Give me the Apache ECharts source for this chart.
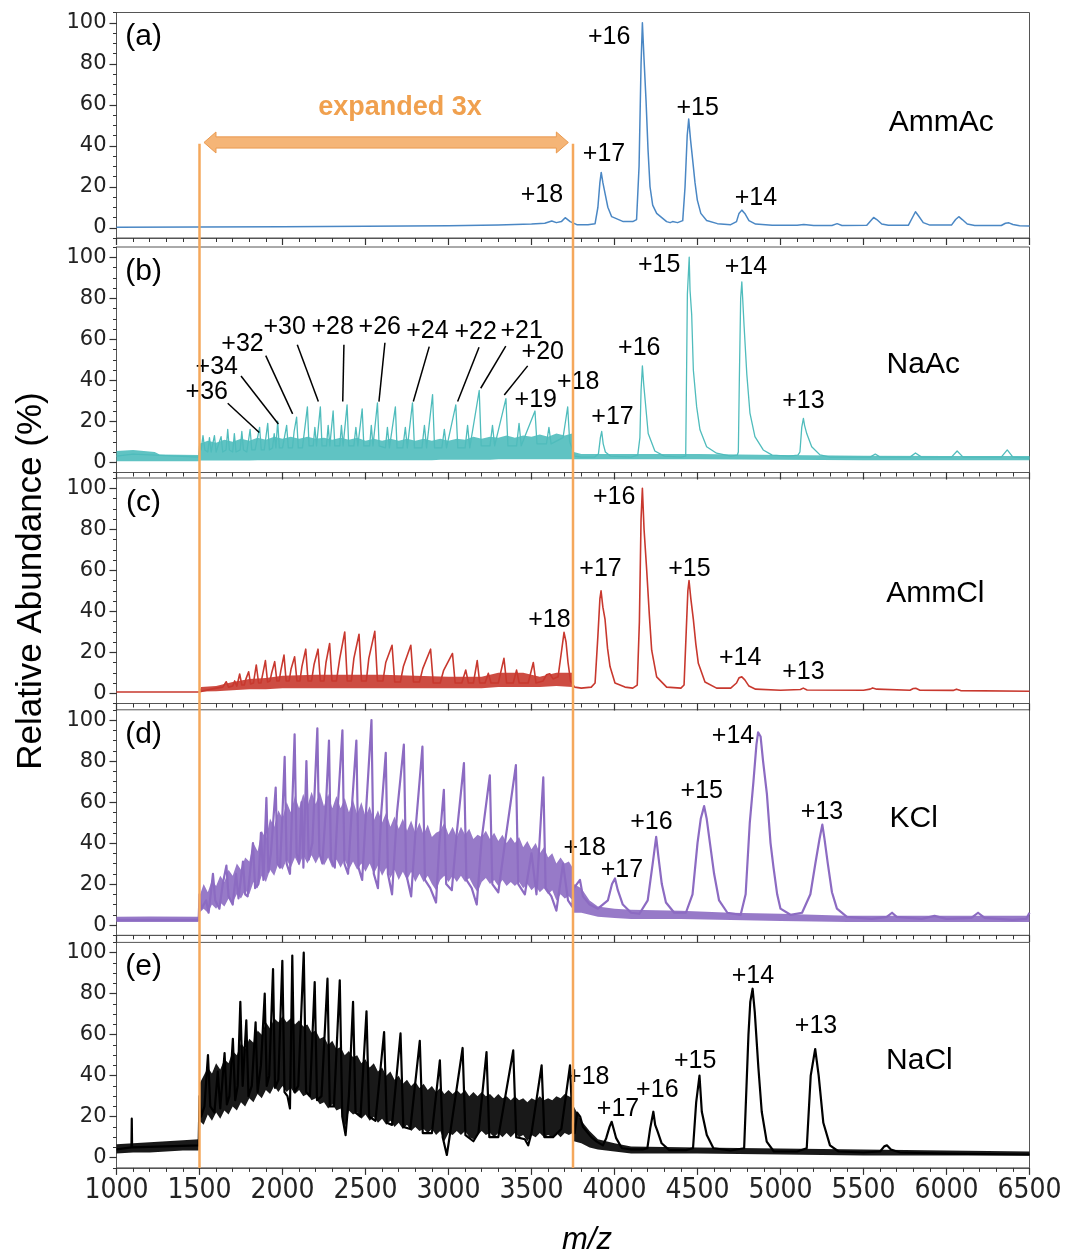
<!DOCTYPE html>
<html><head><meta charset="utf-8">
<script src="https://cdn.jsdelivr.net/npm/echarts@6/dist/echarts.min.js"></script>
<style>html,body{margin:0;padding:0;background:#fff}#c{width:1065px;height:1259px}</style>
</head><body><div id="c"></div>
<script>
// ---------- data (m/z, relative abundance %) ----------
const yTickValues = [0,20,40,60,80,100];

const specA = [[1000,0.3],[1500,0.4],[2000,0.5],[2500,0.7],[3000,1],[3300,1.3],[3500,1.8],[3580,2.2],[3622,3.3],[3650,2.5],[3680,3],[3703,4.9],[3733,3],[3773,1.5],[3840,1.5],[3883,2],[3900,10],[3912,22],[3920,27],[3930,22],[3943,16.8],[3960,10],[3983,5.4],[4053,3],[4110,3],[4133,4],[4148,30],[4160,80],[4168,100],[4178,82],[4190,62],[4202,38],[4214,20],[4230,11],[4254,7],[4314,3],[4335,2.5],[4350,3],[4380,2.5],[4411,3.5],[4425,20],[4438,45],[4447,53],[4458,43],[4471,33],[4485,22],[4499,13.5],[4520,7],[4555,3.5],[4620,2],[4700,1.5],[4735,3],[4750,7],[4767,8.6],[4785,7],[4810,3.5],[4850,1.8],[4950,1.2],[5100,1.2],[5140,1.6],[5200,1.1],[5310,1.1],[5341,2],[5370,1.1],[5520,1.2],[5545,3.5],[5561,5],[5580,4],[5610,1.8],[5650,1.2],[5770,1.2],[5795,5],[5813,7.8],[5830,6],[5860,2.5],[5900,1.3],[6030,1.3],[6055,4],[6074,5.4],[6095,4],[6125,1.8],[6170,1.1],[6330,1.1],[6355,2.2],[6376,2.4],[6400,1.6],[6440,1],[6500,0.9]];

const specB = [[1000,3],[1100,4],[1495,2.5],[1500,8],[1510,6],[1521,13],[1532,6],[1550,5],[1560,12],[1570,5],[1590,13],[1600,5],[1630,12.5],[1640,5],[1660,6],[1670,16],[1680,6],[1700,5],[1710,14],[1720,5],[1745,6],[1755,15],[1765,6],[1785,5],[1805,16],[1815,6],[1835,6],[1862,17],[1872,6],[1890,6],[1911,19],[1921,6],[1940,7],[1950,14],[1960,7],[1971,20],[1981,7],[2000,7],[2025,18],[2035,7],[2060,7],[2070,15],[2085,22],[2095,7],[2120,7],[2150,27],[2160,8],[2185,8],[2195,17],[2205,8],[2228,27],[2238,8],[2265,8],[2275,18],[2285,8],[2305,25],[2315,8],[2345,8],[2355,18],[2365,8],[2389,28],[2399,8],[2430,8],[2442,17],[2454,8],[2480,26],[2490,8],[2525,8],[2535,18],[2545,8],[2572,29],[2582,8],[2620,7],[2632,17],[2644,7],[2680,27],[2690,7],[2725,7],[2740,17],[2752,7],[2783,29],[2795,7],[2840,7],[2855,18],[2868,7],[2904,33],[2916,7],[2960,7],[2975,16],[2988,7],[3044,28],[3056,7],[3100,7],[3115,18],[3128,7],[3185,35],[3197,8],[3250,8],[3265,18],[3278,8],[3346,31],[3358,8],[3410,8],[3425,19],[3438,8],[3521,25],[3533,9],[3590,9],[3605,17],[3618,9],[3690,12],[3705,20],[3718,27],[3730,10],[3748,6],[3760,3],[3800,2.5],[3880,2.5],[3903,4],[3915,12],[3923,15],[3932,9],[3945,5],[3975,3],[4100,2.5],[4140,3.5],[4153,12],[4160,35],[4168,47],[4176,38],[4185,30],[4203,14],[4243,5.5],[4300,3],[4400,2.5],[4429,3],[4439,82],[4450,100],[4455,84],[4465,72],[4475,45],[4495,27],[4515,15.8],[4555,7.6],[4615,4.4],[4700,3],[4740,3.5],[4746,5],[4752,40],[4760,80],[4767,88],[4781,66],[4797,43],[4816,24],[4846,12.5],[4896,6],[4950,3.5],[5050,3],[5105,3.5],[5117,5],[5128,17],[5138,21.4],[5145,18],[5158,14],[5188,7.6],[5238,3.6],[5300,2.5],[5400,2.5],[5540,2.5],[5571,4],[5600,2.5],[5780,2.5],[5813,4.5],[5850,2.5],[6030,2.5],[6064,5.5],[6100,2.5],[6330,2.5],[6366,6],[6400,2.5],[6500,2]];
const bandB = [[1000,0.5,5.5],[1100,0.5,6],[1230,0.5,5],[1260,0.5,3.8],[1495,0.5,3.5],[1500,0.8,9],[1550,0.8,10.5],[1600,0.8,9.5],[1650,0.8,11],[1700,0.8,10],[1750,0.8,11.5],[1800,0.8,10.5],[1850,1,12],[1900,1,11],[1950,1,12.5],[2000,1,11.5],[2050,1,12.5],[2100,1,11.5],[2150,1,12.5],[2200,1,11.5],[2250,1,12],[2300,1,11],[2350,1,12],[2400,1,11],[2450,1,12],[2500,1,10.5],[2550,1,11.5],[2600,1,10.5],[2650,1,11.5],[2700,1,10.5],[2750,1,11.5],[2800,1,10.5],[2850,1,11.5],[2900,1,10.5],[2950,1.2,11.5],[3000,1.2,10.5],[3050,1.2,11.5],[3100,1.2,11],[3150,1.2,12.5],[3200,1.2,11.5],[3250,1.2,12.5],[3300,1.5,12],[3350,1.5,13],[3400,1.5,12],[3450,1.5,13],[3500,1.5,12.5],[3550,1.5,13.5],[3600,1.5,12.5],[3650,1.5,14],[3700,1.5,13],[3745,1.5,14],[3755,1.5,5],[3800,1.5,4],[4000,1.5,4],[4500,1.5,4],[5000,1.2,3.5],[5500,1,3.2],[6000,1,3],[6500,1,3]];

const specC = [[1000,0.6],[1495,0.6],[1500,1.5],[1600,2.5],[1640,3],[1661,5.6],[1675,3],[1700,3.5],[1712,6],[1725,3.5],[1742,9.4],[1755,4],[1770,4],[1780,7],[1796,10.5],[1808,4.5],[1825,5],[1842,13.8],[1856,5],[1870,5],[1880,9],[1897,15.9],[1910,5.5],[1925,6],[1935,10],[1953,15.4],[1966,6],[1980,6],[1990,11],[2009,18.6],[2022,6],[2040,6],[2052,12],[2073,17.8],[2087,6],[2105,6],[2117,13],[2140,21.5],[2154,6],[2175,6],[2190,14],[2214,21.5],[2228,6],[2250,6],[2262,15],[2284,24.3],[2298,6],[2325,6],[2345,17],[2375,29.9],[2390,6],[2415,6],[2430,17],[2461,28.8],[2476,6],[2505,6],[2520,17],[2556,30.2],[2572,6],[2605,6],[2622,15],[2660,23.4],[2676,5.5],[2710,5.5],[2728,13],[2773,23.4],[2789,5.5],[2825,5.5],[2845,12],[2892,21.5],[2908,5],[2950,5],[2970,11],[3024,19.4],[3040,5],[3080,5],[3104,11.3],[3120,5],[3150,5],[3173,15.9],[3188,5],[3220,5],[3240,9.7],[3256,5],[3300,5],[3334,17],[3350,5],[3390,5],[3410,11.3],[3426,5],[3480,5],[3511,15],[3527,5],[3570,6],[3590,9],[3610,9.5],[3630,7],[3660,8],[3680,20],[3696,29.7],[3708,25],[3720,15],[3735,6],[3760,3],[3800,2.5],[3860,3],[3883,5],[3900,28],[3912,46],[3919,50],[3930,42],[3943,36],[3958,22],[3973,13],[4003,5],[4063,3],[4110,2.5],[4137,4],[4150,35],[4160,85],[4168,100],[4178,80],[4194,60],[4210,38],[4224,21],[4254,8],[4314,3],[4400,2.5],[4419,4],[4432,30],[4442,50],[4449,55],[4460,46],[4475,36],[4490,24],[4505,14.6],[4545,5.5],[4615,2.5],[4700,2.5],[4735,5],[4750,7.5],[4767,8],[4785,6.5],[4810,3.5],[4850,2],[5000,1.5],[5120,1.8],[5137,2.5],[5160,1.6],[5500,1.5],[5540,2],[5555,2.6],[5580,2],[5780,1.5],[5800,2.3],[5815,2.4],[5840,1.5],[6040,1.4],[6060,2],[6085,1.3],[6500,1]];
const bandC = [[1500,0.5,1.5],[1510,0.8,3],[1600,1,3.5],[1700,1.5,5.5],[1800,2,7],[1900,2,7.5],[2000,2.5,8.5],[2200,2.5,9],[2400,2.5,9],[2600,2.5,9],[2800,2.5,8.5],[3000,2.5,8],[3200,2.5,8],[3300,3,10],[3450,3,10],[3550,3,8],[3650,3.5,10],[3745,3,10],[3755,2,4]];

const specD = [[1000,2.5],[1495,2.5],[1500,15],[1510,8],[1540,12],[1555,6],[1581,25],[1595,12],[1620,8],[1640,20],[1662,29],[1675,14],[1700,10],[1720,25],[1735,13],[1762,31],[1775,15],[1790,14],[1822,40],[1835,18],[1855,20],[1870,45],[1885,22],[1903,62],[1915,26],[1930,35],[1959,67],[1970,30],[1985,28],[2000,55],[2013,82],[2025,30],[2045,25],[2073,93],[2085,35],[2100,30],[2115,60],[2126,28],[2144,80],[2158,32],[2180,40],[2192,62],[2210,96],[2222,35],[2240,30],[2260,55],[2280,90],[2292,32],[2315,28],[2335,60],[2361,95],[2373,30],[2395,25],[2420,60],[2445,90],[2458,28],[2480,22],[2505,58],[2536,100],[2550,25],[2575,18],[2595,55],[2622,84],[2635,25],[2660,15],[2690,55],[2731,88],[2745,25],[2775,14],[2805,50],[2843,87],[2858,22],[2890,18],[2925,11],[2945,40],[2972,66],[2986,20],[3020,17],[3050,45],[3093,79],[3108,22],[3140,18],[3170,10],[3200,42],[3249,73],[3264,20],[3300,16],[3340,40],[3406,78],[3420,20],[3460,15],[3500,35],[3530,15],[3571,72],[3585,18],[3620,14],[3650,7],[3690,30],[3720,12],[3745,9],[3755,18],[3792,22],[3810,14],[3850,10],[3900,8],[3960,12],[3985,20],[4003,22.7],[4020,17],[4050,10],[4100,6],[4150,5.5],[4200,12],[4230,30],[4251,43],[4265,33],[4285,20],[4310,11],[4360,6],[4430,6],[4470,15],[4500,40],[4520,52],[4540,58],[4555,52],[4575,40],[4600,25],[4630,12],[4680,6],[4760,5],[4790,15],[4815,50],[4837,70],[4855,88],[4865,94],[4880,92],[4895,80],[4918,64],[4940,40],[4958,28],[4980,15],[5000,8],[5060,5],[5130,6],[5180,15],[5210,30],[5235,42],[5252,49],[5265,42],[5285,30],[5310,16],[5340,8],[5400,4],[5550,3],[5640,4],[5672,6],[5700,4],[5850,3],[5928,4.5],[6000,3],[6150,3.5],[6190,6],[6230,3.5],[6400,2.5],[6480,3],[6500,6]];
const bandD = [[1000,1.5,4],[1200,1.5,4.2],[1495,1.5,4],[1500,6,14],[1525,8,20],[1550,6,16],[1575,10,22],[1600,8,19],[1625,11,24],[1650,9,21],[1675,13,27],[1700,11,24],[1725,15,30],[1750,13,27],[1775,17,33],[1800,15,31],[1825,21,40],[1850,18,36],[1875,24,46],[1900,21,42],[1925,27,52],[1950,24,48],[1975,30,56],[2000,27,52],[2025,32,60],[2050,28,55],[2075,33,63],[2100,29,57],[2125,34,64],[2150,30,58],[2175,34,65],[2200,30,59],[2225,34,65],[2250,29,58],[2275,33,64],[2300,28,57],[2325,32,63],[2350,28,57],[2375,32,62],[2400,27,55],[2425,31,61],[2450,27,54],[2475,30,60],[2500,26,53],[2525,30,58],[2550,25,51],[2575,29,56],[2600,24,50],[2625,28,55],[2650,23,48],[2675,27,53],[2700,22,47],[2725,26,52],[2750,22,46],[2775,26,51],[2800,21,45],[2825,25,50],[2850,21,44],[2875,24,49],[2900,20,43],[2925,17,45],[2950,22,46],[2975,24,50],[3000,21,44],[3025,24,48],[3050,21,43],[3075,24,48],[3100,21,44],[3125,23,47],[3150,19,42],[3175,16,44],[3200,21,43],[3225,23,46],[3250,20,42],[3275,22,45],[3300,19,41],[3325,22,44],[3350,19,40],[3375,21,43],[3400,19,40],[3425,21,43],[3450,18,38],[3475,20,41],[3500,17,37],[3525,19,40],[3550,16,35],[3575,18,38],[3600,15,33],[3625,17,35],[3650,12,30],[3675,15,33],[3700,13,30],[3725,14,31],[3748,12,28],[3755,6,20],[3800,6,18],[3850,5,12],[3900,4,9],[4000,3.5,8],[4100,3,7.5],[4400,3,7],[4700,2.5,6],[5000,2,5.5],[5400,1.5,4.5],[6500,1.5,4.5]];

const specE = [[1000,4],[1090,5],[1092,19],[1094,5],[1495,6],[1500,30],[1510,20],[1530,25],[1551,50],[1565,25],[1590,22],[1610,42],[1625,24],[1651,51],[1665,26],[1680,30],[1701,58],[1715,28],[1730,35],[1746,76],[1760,35],[1782,67],[1795,30],[1815,35],[1838,66],[1850,32],[1870,45],[1893,80],[1905,35],[1920,40],[1943,92],[1955,34],[1975,38],[1999,96],[2012,32],[2030,30],[2045,24],[2059,98.6],[2072,32],[2095,35],[2128,100],[2142,32],[2165,30],[2194,85.6],[2208,28],[2235,30],[2271,87.3],[2285,25],[2310,25],[2345,86.5],[2360,20],[2380,11],[2400,30],[2425,76],[2440,22],[2470,20],[2506,71.4],[2522,20],[2560,18],[2612,61.3],[2628,17],[2660,16],[2711,60.6],[2728,15],[2770,14],[2827,57],[2845,12],[2900,12],[2948,47.5],[2965,10],[2990,1.3],[3010,12],[3085,53.5],[3102,11],[3150,8],[3180,12],[3229,51.5],[3246,10],[3300,10],[3390,52.3],[3408,10],[3460,9],[3480,6],[3500,12],[3561,45],[3578,10],[3630,10],[3680,14],[3732,45],[3745,20],[3760,12],[3775,22],[3793,20],[3810,15],[3833,12.7],[3860,10],[3893,7.8],[3930,6],[3950,9.5],[3970,15],[3983,17.5],[3995,14],[4010,9.5],[4045,4.6],[4100,4],[4170,4],[4198,4.6],[4215,14.3],[4234,22.4],[4245,16],[4260,12.7],[4284,7],[4330,3.7],[4430,3.7],[4473,4.6],[4492,27],[4512,40],[4526,22.4],[4556,11],[4596,4.6],[4700,3.5],[4781,4.6],[4807,60],[4818,76],[4832,82.4],[4845,71],[4867,43.6],[4887,22.4],[4917,7.8],[4960,3],[5100,3],[5158,4.6],[5182,40],[5209,53],[5230,40],[5258,17],[5298,6],[5350,3],[5500,2.5],[5600,3],[5625,5.5],[5641,6],[5665,4],[5720,2.5],[6000,2],[6500,1.5]];
const bandE = [[1000,2,6.5],[1100,2.5,7],[1200,2.5,7.5],[1300,3,8],[1400,3.5,8.5],[1495,3.5,9],[1500,18,36],[1525,16,40],[1550,21,44],[1575,18,41],[1600,22,46],[1625,19,43],[1650,23,48],[1675,21,46],[1700,25,52],[1725,23,50],[1750,27,56],[1775,25,53],[1800,29,58],[1825,27,56],[1850,31,62],[1875,29,60],[1900,33,66],[1925,31,63],[1950,35,68],[1975,32,66],[2000,35,69],[2025,32,66],[2050,34,68],[2075,31,65],[2100,33,67],[2125,30,64],[2150,31,65],[2175,28,61],[2200,29,62],[2225,26,58],[2250,27,59],[2275,24,55],[2300,26,57],[2325,23,53],[2350,24,54],[2375,14,50],[2400,23,52],[2425,21,49],[2450,22,50],[2475,19,46],[2500,21,48],[2525,18,44],[2550,20,46],[2575,17,42],[2600,19,44],[2625,16,40],[2650,18,42],[2675,15,38],[2700,17,40],[2725,14,36],[2750,16,38],[2775,13,35],[2800,15,37],[2825,13,34],[2850,14,36],[2875,12,33],[2900,14,35],[2925,11,32],[2950,13,34],[2975,8,31],[3000,12,33],[3025,11,31],[3050,13,33],[3075,11,31],[3100,13,33],[3125,10,30],[3150,9,32],[3175,11,30],[3200,13,32],[3225,11,30],[3250,12,31],[3275,10,29],[3300,12,31],[3325,10,29],[3350,12,30],[3375,10,28],[3400,12,30],[3425,10,28],[3450,11,29],[3475,8,27],[3500,11,29],[3525,10,28],[3550,12,30],[3575,10,28],[3600,11,29],[3625,10,28],[3650,12,30],[3675,10,29],[3700,12,31],[3725,11,30],[3748,12,29],[3755,8,25],[3800,7,18],[3850,5,13],[3900,4,9],[4000,3,7],[4100,2,5.5],[4500,2,5],[5000,1.5,4.5],[5500,1,4],[6000,1,3.5],[6500,1,3]];

// annotations: [text, m/z, %]
const annA = [['+16',3968,93.2],['+15',4501,58.6],['+17',3937,35.7],['+18',3563,15.8],['+14',4852,14.3]];
const annB = [['+15',4269,96.2],['+14',4792,95.2],['+16',4149,55.8],['+18',3782,38.9],['+17',3988,22],['+13',5138,29.8],['+19',3526,30.1],['+20',3568,53.6],['+21',3441,64.1],['+22',3164,63.3],['+24',2873,64.1],['+26',2586,65.8],['+28',2302,65.8],['+30',2013,65.8],['+32',1759,57.6],['+34',1604,46.4],['+36',1544,34.4]];
const annC = [['+16',3998,95.9],['+17',3916,60.5],['+15',4451,60.5],['+18',3608,35.5],['+14',4757,17.3],['+13',5138,10.5]];
const annD = [['+14',4714,92.1],['+15',4526,65.5],['+16',4222,50],['+13',5250,55.1],['+18',3820,37.6],['+17',4045,27]];
const annE = [['+14',4834,88.5],['+13',5214,64.1],['+15',4486,47.3],['+16',4258,33],['+18',3842,39.1],['+17',4021,23.7]];
// leader lines in panel (b): [m/z1, %1, m/z2, %2]
const leadersB = [[1670,28.8,1860,14.5],[1750,42.1,1975,18.7],[1899,52,2061,23.6],[2089,57.3,2216,29.6],[2370,57.3,2363,29.6],[2617,58.3,2581,29.6],[2884,56.4,2788,29.6],[3184,56.1,3055,29.6],[3345,56.7,3194,36.1],[3477,47,3336,32.8]];
const sampleNames = [['AmmAc',5968,51],['NaAc',5860,47.5],['AmmCl',5933,48.7],['KCl',5802,51.7],['NaCl',5837,47.2]];
const panelLetters = [['(a)',1163,93],['(b)',1163,93],['(c)',1163,93],['(d)',1163,93],['(e)',1163,93]];
const expandRange = [1500, 3750];   // m/z of the orange guide lines
const arrowRange = [1527, 3722];    // arrow tips (m/z)
const arrowLevel = 41.6;            // % in panel (a)
const guideTop = 41;                // % in panel (a)
const expandText = ['expanded 3x', 2708, 58.6];

// ---------- layout/styles ----------
const specs = [specA, specB, specC, specD, specE];
const bands = [null, bandB, bandC, bandD, bandE];
const anns = [annA, annB, annC, annD, annE];
const colors = ['#4a87c4', '#4fbcbc', '#c8382e', '#8c6bc2', '#000000'];
const widths = [1.5, 1.3, 1.6, 2.2, 2.2];
const tops = [12.5, 247, 478, 709.8, 942.4];
const GL = 116.5, GW = 913, GH = 225.5;
const SANS = "'Liberation Sans', Arial, sans-serif";

const grid = [], xAxis = [], yAxis = [], series = [];
const lineIdx = [];
const labelCommon = {show: true, position: 'inside', formatter: '{b}', color: '#000', fontFamily: SANS, opacity: 1};
for (let i = 0; i < 5; i++) {
  grid.push({left: GL, top: tops[i], width: GW, height: GH, show: true, borderColor: '#555', borderWidth: 1,
    backgroundColor: 'transparent', outerBoundsMode: 'none', containLabel: false});
  xAxis.push({
    gridIndex: i, type: 'value', min: 1000, max: 6500, interval: 500,
    axisLine: {show: true, onZero: false, lineStyle: {color: '#555', width: 1}},
    axisTick: {show: true, inside: false, length: 7, lineStyle: {color: '#333', width: 1.2}},
    minorTick: {show: true, splitNumber: 5, length: 4, lineStyle: {color: '#333', width: 1}},
    splitLine: {show: false}, minorSplitLine: {show: false},
    axisLabel: {show: i === 4, margin: 9, fontSize: 28, color: '#222', formatter: v => String(v),
      hideOverlap: false, showMinLabel: true, showMaxLabel: true,
      fontFamily: "'DejaVu Sans Condensed', 'Liberation Sans Narrow', 'DejaVu Sans', sans-serif"}
  });
  yAxis.push({
    gridIndex: i, type: 'value', min: -5, max: 105,
    axisLine: {show: true, onZero: false, lineStyle: {color: '#555', width: 1}},
    axisTick: {show: true, length: 7, customValues: yTickValues, lineStyle: {color: '#333', width: 1.2}},
    axisLabel: {show: true, customValues: yTickValues, margin: 10, fontSize: 21, color: '#222', fontFamily: "'DejaVu Sans', sans-serif"},
    splitLine: {show: false}
  });
  yAxis.push({
    gridIndex: i, type: 'value', min: -5, max: 105, interval: 5, position: 'left',
    axisLine: {show: false}, axisLabel: {show: false}, splitLine: {show: false},
    axisTick: {show: true, length: 3.5, lineStyle: {color: '#333', width: 1}}
  });
  const band = bands[i];
  if (band) {
    const col = colors[i];
    series.push({
      type: 'custom', xAxisIndex: i, yAxisIndex: 2 * i, silent: true, animation: false, clip: true, z: 1,
      data: band, encode: {x: 0, y: [1, 2]},
      renderItem: function (params, api) {
        if (params.dataIndex !== 0) return null;
        const pts = [];
        for (let k = 0; k < band.length; k++) pts.push(api.coord([band[k][0], band[k][2]]));
        for (let k = band.length - 1; k >= 0; k--) pts.push(api.coord([band[k][0], band[k][1]]));
        return {type: 'polygon', shape: {points: pts}, style: {fill: col, opacity: 0.9}};
      }
    });
  }
  lineIdx.push(series.length);
  series.push({
    type: 'line', xAxisIndex: i, yAxisIndex: 2 * i, data: specs[i], symbol: 'none', showSymbol: false,
    lineStyle: {color: colors[i], width: widths[i], join: 'round'}, animation: false, silent: true, z: 2, clip: true
  });
  const annSeries = {
    type: 'scatter', xAxisIndex: i, yAxisIndex: 2 * i, symbolSize: 2, itemStyle: {color: 'rgba(0,0,0,0)'}, silent: true, animation: false, z: 5,
    data: anns[i].map(a => ({name: a[0], value: [a[1], a[2]]})),
    label: Object.assign({}, labelCommon, {fontSize: 25})
  };
  if (i === 1) {
    annSeries.markLine = {
      silent: true, animation: false, symbol: ['none', 'none'], label: {show: false},
      lineStyle: {color: '#000', width: 1.5, type: 'solid'},
      data: leadersB.map(l => [{coord: [l[0], l[1]]}, {coord: [l[2], l[3]]}])
    };
  }
  series.push(annSeries);
  series.push({
    type: 'scatter', xAxisIndex: i, yAxisIndex: 2 * i, symbolSize: 2, itemStyle: {color: 'rgba(0,0,0,0)'}, silent: true, animation: false, z: 5,
    data: [{name: sampleNames[i][0], value: [sampleNames[i][1], sampleNames[i][2]]}, {name: panelLetters[i][0], value: [panelLetters[i][1], panelLetters[i][2]]}],
    label: Object.assign({}, labelCommon, {fontSize: 30})
  });
}

const chart = echarts.init(document.getElementById('c'), null, {renderer: 'canvas'});
chart.setOption({animation: false, backgroundColor: '#fff', grid, xAxis, yAxis, series});

// orange guide lines / arrow, positioned through the axes
const P = (gi, v) => chart.convertToPixel({seriesIndex: lineIdx[gi]}, v);
const gL1 = P(0, [expandRange[0], guideTop]), gL2 = P(4, [expandRange[0], -5]);
const gR1 = P(0, [expandRange[1], guideTop]), gR2 = P(4, [expandRange[1], -5]);
const aL = P(0, [arrowRange[0], arrowLevel]), aR = P(0, [arrowRange[1], arrowLevel]);
const hl = 12, hh = 10.5, sh = 5.6, ay = aL[1];
const arrowPts = [
  [aL[0], ay], [aL[0] + hl, ay - hh], [aL[0] + hl, ay - sh], [aR[0] - hl, ay - sh], [aR[0] - hl, ay - hh],
  [aR[0], ay], [aR[0] - hl, ay + hh], [aR[0] - hl, ay + sh], [aL[0] + hl, ay + sh], [aL[0] + hl, ay + hh]
];
const tp = P(0, [expandText[1], expandText[2]]);
chart.setOption({graphic: [
  {type: 'line', z: 100, shape: {x1: gL1[0], y1: gL1[1], x2: gL2[0], y2: gL2[1]}, style: {stroke: '#f5a85c', lineWidth: 2.5}},
  {type: 'line', z: 100, shape: {x1: gR1[0], y1: gR1[1], x2: gR2[0], y2: gR2[1]}, style: {stroke: '#f5a85c', lineWidth: 2.5}},
  {type: 'polygon', z: 100, shape: {points: arrowPts}, style: {fill: '#f5b577', stroke: '#ea9a50', lineWidth: 1}},
  {type: 'text', z: 100, x: tp[0], y: tp[1], style: {text: expandText[0], fill: '#f0a04e', font: "bold 27px 'Liberation Sans', Arial, sans-serif", align: 'center', verticalAlign: 'middle'}},
  {type: 'text', z: 100, x: 31, y: 581, rotation: Math.PI / 2, style: {text: 'Relative Abundance (%)', fill: '#000', font: "35px 'Liberation Sans', Arial, sans-serif", align: 'center', verticalAlign: 'middle'}},
  {type: 'text', z: 100, x: 587, y: 1240, style: {text: 'm/z', fill: '#000', font: "italic 31px 'Liberation Sans', Arial, sans-serif", align: 'center', verticalAlign: 'middle'}}
]});
</script>
</body></html>
